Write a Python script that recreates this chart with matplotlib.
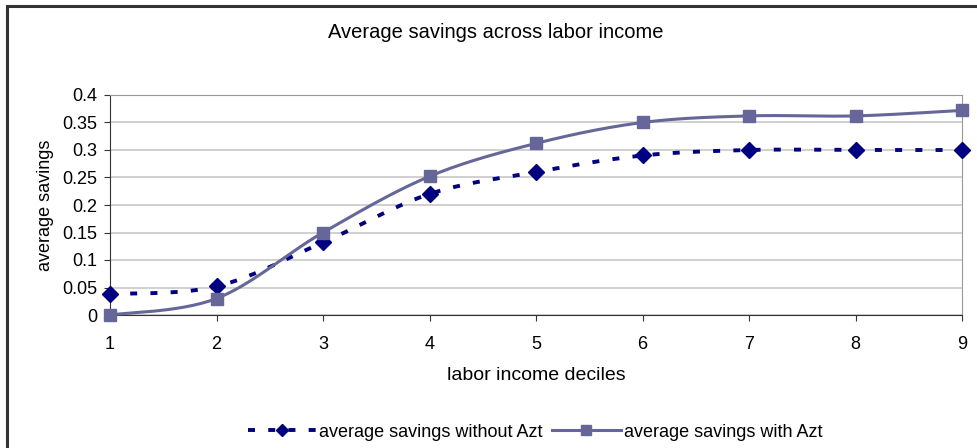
import matplotlib.pyplot as plt
import numpy as np
from matplotlib.lines import Line2D
from matplotlib.patches import Rectangle

plt.rcParams["font.family"] = ["Liberation Sans", "DejaVu Sans"]

deciles = [1, 2, 3, 4, 5, 6, 7, 8, 9]
savings_without_azt = [0.038, 0.052, 0.132, 0.220, 0.260, 0.290, 0.300, 0.300, 0.300]
savings_with_azt = [0.000, 0.030, 0.150, 0.252, 0.312, 0.350, 0.362, 0.362, 0.372]
y_ticks = [0, 0.05, 0.1, 0.15, 0.2, 0.25, 0.3, 0.35, 0.4]
y_tick_labels = ["0", "0.05", "0.1", "0.15", "0.2", "0.25", "0.3", "0.35", "0.4"]

NAVY = "#000080"
SLATE = "#666699"


def smooth(x, y, n=30):
    # spreadsheet-style smoothed line: cubic Bezier segments through each point
    x = np.asarray(x, float)
    y = np.asarray(y, float)
    px = np.concatenate([[x[0]], x, [x[-1]]])
    py = np.concatenate([[y[0]], y, [y[-1]]])
    t = np.linspace(0, 1, n)[:, None]
    xs, ys = [], []
    for i in range(len(x) - 1):
        p0 = np.array([px[i + 1], py[i + 1]])
        p3 = np.array([px[i + 2], py[i + 2]])
        c1 = p0 + (p3 - np.array([px[i], py[i]])) / 6
        c2 = p3 - (np.array([px[i + 3], py[i + 3]]) - p0) / 6
        seg = ((1 - t) ** 3) * p0 + 3 * ((1 - t) ** 2) * t * c1 + 3 * (1 - t) * t ** 2 * c2 + t ** 3 * p3
        xs.append(seg[:, 0])
        ys.append(seg[:, 1])
    return np.concatenate(xs), np.concatenate(ys)


fig = plt.figure(figsize=(9.77, 4.48), dpi=100)
fig.patches.append(Rectangle((7 / 977, -0.1), 1.1, 1 - 6 / 448 + 0.1, transform=fig.transFigure,
                             fill=False, edgecolor="#333333", lw=2.2, zorder=0))

ax = fig.add_axes([110 / 977, 1 - 315 / 448, 852 / 977, 220 / 448])

dash = (1.8, 3.4)
sx, sy = smooth(deciles, savings_without_azt)
ax.plot(sx, sy, color=NAVY, lw=2.8, dashes=dash, zorder=3, clip_on=False)
ax.plot(deciles, savings_without_azt, ls="none", marker="D", ms=8.5, color=NAVY, zorder=4,
        clip_on=False)

sx, sy = smooth(deciles, savings_with_azt)
ax.plot(sx, sy, color=SLATE, lw=2.2, zorder=3, clip_on=False)
ax.plot(deciles, savings_with_azt, ls="none", marker="s", ms=9, color=SLATE, zorder=4,
        clip_on=False)

ax.set_xlim(1, 9)
ax.set_ylim(0, 0.4)
ax.set_xticks(deciles)
ax.set_yticks(y_ticks)
ax.set_yticklabels(y_tick_labels)
ax.tick_params(labelsize=13, length=4, color="#333333", pad=5)
ax.tick_params(axis="x", pad=11)
ax.yaxis.grid(True, color="#c8c8c8", lw=1.2)
ax.set_axisbelow(True)
for side in ["left", "bottom"]:
    ax.spines[side].set_color("#333333")
for side in ["top", "right"]:
    ax.spines[side].set_color("#999999")

ax.set_xlabel("labor income deciles", fontsize=14, labelpad=10)
ax.set_ylabel("average savings", fontsize=13, labelpad=6)
fig.text(496 / 977, 1 - 32 / 448, "Average savings across labor income", fontsize=14.5,
         ha="center", va="center")

handles = [
    Line2D([], [], color=NAVY, lw=2.8, dashes=dash, marker="D", ms=6),
    Line2D([], [], color=SLATE, lw=2.2, marker="s", ms=7),
]
fig.legend(handles, ["average savings without Azt", "average savings with Azt"],
           loc="center", bbox_to_anchor=(535 / 977, 1 - 432 / 448), ncol=2, frameon=False,
           fontsize=13, handlelength=3.8, handletextpad=0.17, columnspacing=0.5)

fig.savefig("out.png", dpi=100)
